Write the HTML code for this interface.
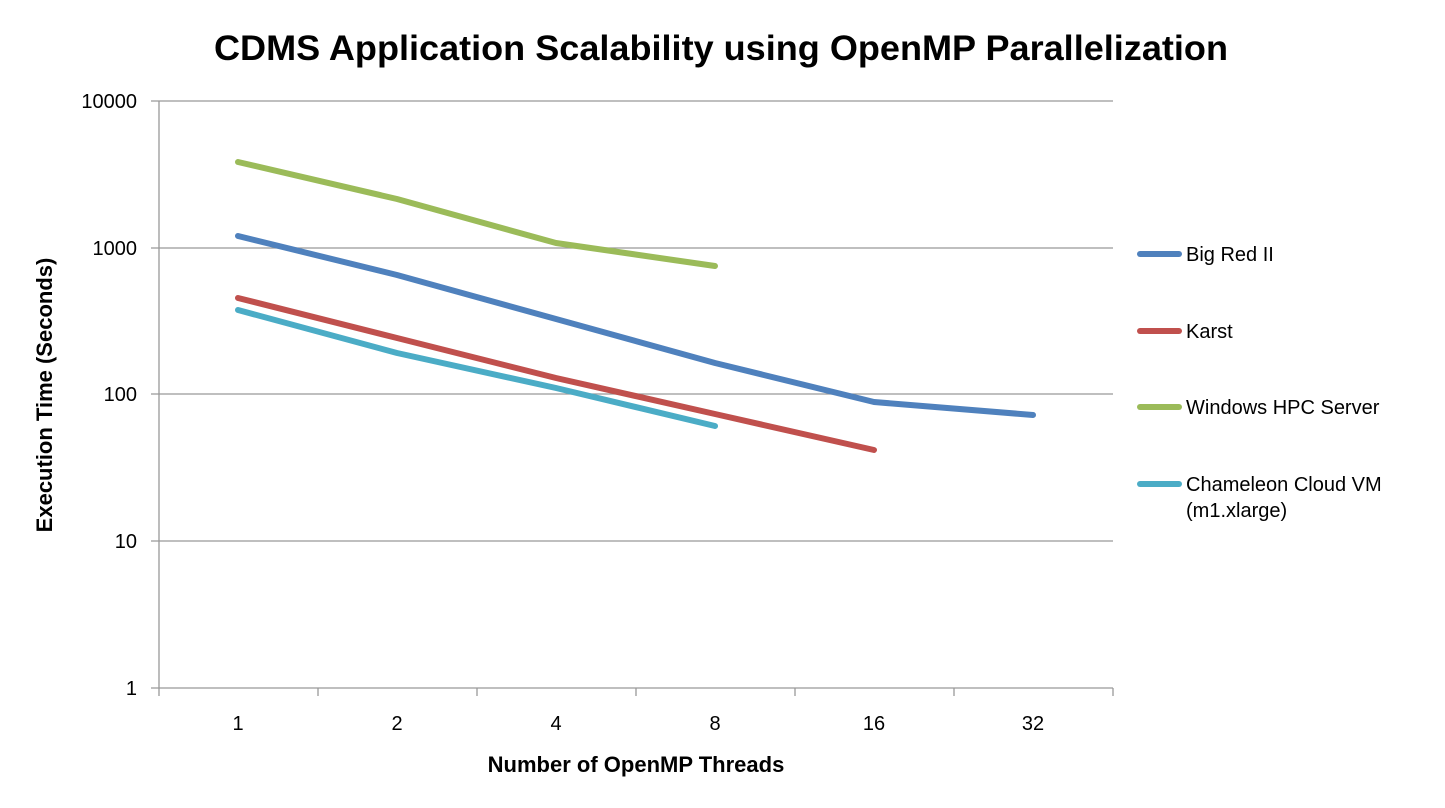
<!DOCTYPE html>
<html><head><meta charset="utf-8"><style>
html,body{margin:0;padding:0;background:#fff;}
svg{display:block;font-family:"Liberation Sans",sans-serif;}
</style></head><body>
<svg width="1445" height="808" viewBox="0 0 1445 808" xmlns="http://www.w3.org/2000/svg">
<text x="721" y="60" text-anchor="middle" font-size="35" font-weight="bold" fill="#000" textLength="1014" lengthAdjust="spacingAndGlyphs">CDMS Application Scalability using OpenMP Parallelization</text>
<g stroke="#999" stroke-width="1.3" fill="none">
<line x1="151" y1="101" x2="1113" y2="101"/>
<line x1="151" y1="248" x2="1113" y2="248"/>
<line x1="151" y1="394" x2="1113" y2="394"/>
<line x1="151" y1="541" x2="1113" y2="541"/>
<line x1="151" y1="688" x2="1113" y2="688"/>
<line x1="159" y1="101" x2="159" y2="696"/>
<line x1="318" y1="688" x2="318" y2="696"/>
<line x1="477" y1="688" x2="477" y2="696"/>
<line x1="636" y1="688" x2="636" y2="696"/>
<line x1="795" y1="688" x2="795" y2="696"/>
<line x1="954" y1="688" x2="954" y2="696"/>
<line x1="1113" y1="688" x2="1113" y2="696"/>
</g>
<g font-size="20" fill="#000" text-anchor="end">
<text x="137" y="108">10000</text>
<text x="137" y="255">1000</text>
<text x="137" y="401">100</text>
<text x="137" y="548">10</text>
<text x="137" y="695">1</text>
</g>
<g font-size="20" fill="#000" text-anchor="middle">
<text x="238" y="730">1</text>
<text x="397" y="730">2</text>
<text x="556" y="730">4</text>
<text x="715" y="730">8</text>
<text x="874" y="730">16</text>
<text x="1033" y="730">32</text>
</g>
<text x="636" y="772" text-anchor="middle" font-size="22" font-weight="bold">Number of OpenMP Threads</text>
<text transform="translate(52,395) rotate(-90)" text-anchor="middle" font-size="22" font-weight="bold">Execution Time (Seconds)</text>
<g fill="none" stroke-width="6" stroke-linecap="round" stroke-linejoin="round">
<polyline stroke="#9bbb59" points="238,162 397,199 556,243 715,266"/>
<polyline stroke="#4f81bd" points="238,236 397,275 556,319 715,363 874,402 1033,415"/>
<polyline stroke="#c0504d" points="238,298 397,338 556,378 715,414 874,450"/>
<polyline stroke="#4bacc6" points="238,310 397,353 556,388 715,426"/>
<line stroke="#4f81bd" x1="1140" y1="254" x2="1179" y2="254"/>
<line stroke="#c0504d" x1="1140" y1="331" x2="1179" y2="331"/>
<line stroke="#9bbb59" x1="1140" y1="407" x2="1179" y2="407"/>
<line stroke="#4bacc6" x1="1140" y1="484" x2="1179" y2="484"/>
</g>
<g font-size="20" fill="#000">
<text x="1186" y="261">Big Red II</text>
<text x="1186" y="338">Karst</text>
<text x="1186" y="414">Windows HPC Server</text>
<text x="1186" y="491">Chameleon Cloud VM</text>
<text x="1186" y="517">(m1.xlarge)</text>
</g>
</svg>
</body></html>
